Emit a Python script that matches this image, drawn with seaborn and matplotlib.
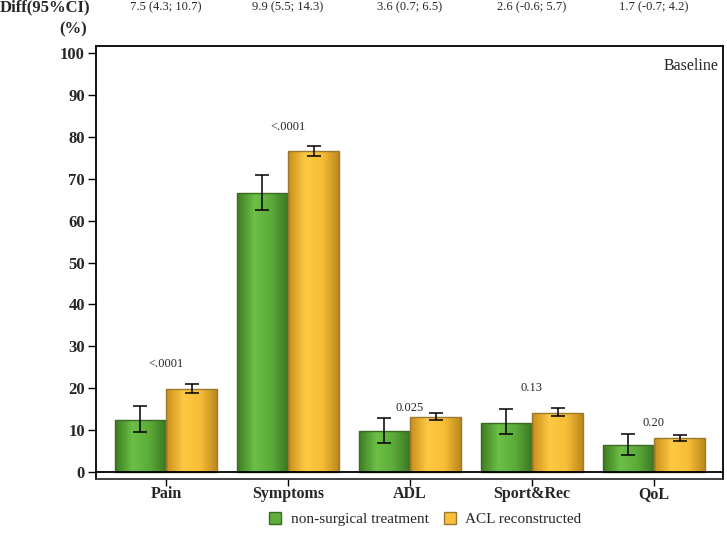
import numpy as np
import pandas as pd
import matplotlib
matplotlib.use("Agg")
import matplotlib.pyplot as plt
import seaborn as sns
from matplotlib.colors import LinearSegmentedColormap
from matplotlib.patches import Patch

# data
domains = ["Pain", "Symptoms", "ADL", "Sport&Rec", "QoL"]
groups = ["non-surgical treatment", "ACL reconstructed"]
nonsurg = [12.3, 66.7, 9.7, 11.8, 6.4]
nonsurg_lo = [9.6, 62.5, 7.0, 9.0, 4.0]
nonsurg_hi = [15.7, 71.0, 12.8, 15.0, 9.0]
aclr = [19.8, 76.6, 13.2, 14.2, 8.1]
aclr_lo = [18.9, 75.5, 12.3, 13.3, 7.4]
aclr_hi = [21.0, 77.8, 14.2, 15.2, 8.9]
pvals = ["<.0001", "<.0001", "0.025", "0.13", "0.20"]
pval_y = [25.8, 82.3, 15.3, 20.0, 11.7]
diffs = ["7.5 (4.3; 10.7)", "9.9 (5.5; 14.3)", "3.6 (0.7; 6.5)",
         "2.6 (-0.6; 5.7)", "1.7 (-0.7; 4.2)"]

df = pd.DataFrame({
    "domain": domains * 2,
    "group": [groups[0]] * 5 + [groups[1]] * 5,
    "value": nonsurg + aclr,
})

sns.set_style("white")
plt.rcParams["font.family"] = ["Liberation Serif", "DejaVu Serif"]

fig = plt.figure(figsize=(7.27, 5.39), dpi=100)
ax = fig.add_axes([0.132, 0.1113, 0.8625, 0.8034])

green = "#5fae3c"
yellow = "#fbbf3a"
sns.barplot(data=df, x="domain", y="value", hue="group", order=domains,
            hue_order=groups, palette=[green, yellow], width=0.84,
            errorbar=None, ax=ax, legend=False)

# gradient shading on the bars
cmaps = {
    0: LinearSegmentedColormap.from_list("g", ["#3e7d22", "#6cbf47", "#5cab3a", "#3a7620"]),
    1: LinearSegmentedColormap.from_list("y", ["#c98f1a", "#fdc944", "#f8bd36", "#b8861c"]),
}
edges = {0: "#3b6a22", 1: "#9a7a30"}
grad = np.linspace(0, 1, 64).reshape(1, -1)
bars = list(ax.patches)
for k, p in enumerate(bars):
    g = 0 if k < 5 else 1
    x0, w, h = p.get_x(), p.get_width(), p.get_height()
    im = ax.imshow(grad, cmap=cmaps[g], aspect="auto",
                   extent=[x0, x0 + w, 0, h], zorder=p.get_zorder())
    im.set_clip_path(p)
    p.set_edgecolor(edges[g])
    p.set_linewidth(1.0)
    p.set_zorder(p.get_zorder() + 0.5)
    p.set_facecolor("none")

# error bars
for k, p in enumerate(bars):
    cx = p.get_x() + p.get_width() / 2
    if k < 5:
        v, lo, hi = nonsurg[k], nonsurg_lo[k], nonsurg_hi[k]
    else:
        v, lo, hi = aclr[k - 5], aclr_lo[k - 5], aclr_hi[k - 5]
    ax.errorbar(cx, v, yerr=[[v - lo], [hi - v]], color="black",
                capsize=5, elinewidth=1.1, capthick=1.1, zorder=5)

for i, (t, yv) in enumerate(zip(pvals, pval_y)):
    ax.text(i, yv, t, ha="center", va="center", fontsize=9)

ax.axhline(0, color="black", lw=1.3, zorder=6)
ax.set_xlim(-0.574, 4.566)
ax.set_ylim(-1.67, 101.7)
ax.set_yticks(range(0, 101, 10))
ax.set_xlabel("")
ax.set_ylabel("")
for s in ax.spines.values():
    s.set_visible(True)
    s.set_color("black")
    s.set_linewidth(1.3)
ax.spines["bottom"].set_color("#333333")
ax.tick_params(axis="both", direction="out", length=6, width=1, color="black",
               left=True, bottom=True, labelsize=12, pad=2)
ax.tick_params(axis="x", labelsize=11.5, length=5, pad=0)
for lab in ax.get_xticklabels() + ax.get_yticklabels():
    lab.set_fontweight("bold")

ax.text(0.993, 0.972, "Baseline", transform=ax.transAxes, ha="right",
        va="top", fontsize=11.5)

# top header row
fig.text(0.0, 0.987, "Diff(95%CI)", ha="left", va="center",
         fontsize=12, fontweight="bold")
fig.text(0.101, 0.946, "(%)", ha="center", va="center",
         fontsize=12, fontweight="bold")
for i, t in enumerate(diffs):
    xf = fig.transFigure.inverted().transform(ax.transData.transform((i, 0)))[0]
    fig.text(xf, 0.987, t, ha="center", va="center", fontsize=9)

# legend
handles = [Patch(facecolor=green, edgecolor=edges[0]),
           Patch(facecolor=yellow, edgecolor=edges[1])]
fig.legend(handles, groups, loc="center", bbox_to_anchor=(0.585, 0.037),
           ncol=2, frameon=False, fontsize=11, handlelength=0.8,
           handleheight=0.8, handletextpad=0.6, columnspacing=1.0)

fig.savefig("out.png", dpi=100)
